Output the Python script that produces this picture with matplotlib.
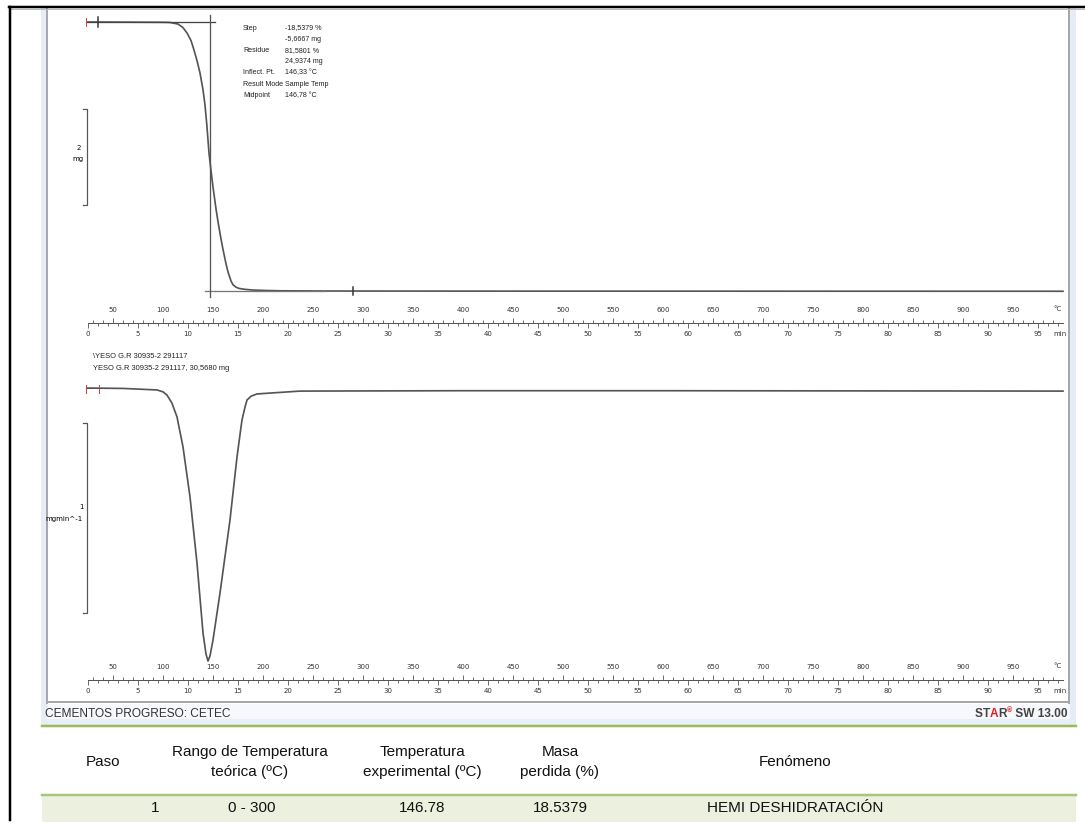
import matplotlib
matplotlib.use("Agg")
import matplotlib.pyplot as plt
import numpy as np

plt.rcParams["font.family"] = "DejaVu Sans"

# --- datos ---
# TGA (masa, mg) frente a temperatura de muestra (ºC)
tga_temp = [25, 100, 107, 115, 120, 124, 128, 131, 134, 137, 140, 142, 144, 146, 148,
            150, 153, 155, 158, 160, 163, 165, 168, 170, 173, 176, 182, 190, 205, 217,
            260, 400, 600, 800, 1000]
tga_mass = [30.568, 30.562, 30.558, 30.526, 30.450, 30.338, 30.180, 29.982, 29.760,
            29.501, 29.150, 28.832, 28.371, 27.827, 27.460, 27.116, 26.660, 26.390,
            26.030, 25.810, 25.510, 25.340, 25.150, 25.070, 25.020, 24.995, 24.975,
            24.960, 24.950, 24.945, 24.940, 24.938, 24.937, 24.936, 24.935]

# DTG (mg/min) frente a temperatura (ºC)
dtg_temp = [25, 60, 94, 100, 104, 109, 114, 120, 127, 134, 140, 143, 145, 147, 150,
            157, 167, 174, 177, 179, 182, 184, 188, 194, 237, 400, 600, 800, 1000]
dtg_val = [0.005, 0.003, -0.005, -0.015, -0.032, -0.075, -0.147, -0.305, -0.568,
           -0.916, -1.284, -1.395, -1.432, -1.405, -1.321, -1.074, -0.689, -0.358,
           -0.240, -0.163, -0.095, -0.058, -0.038, -0.026, -0.011, -0.009, -0.009,
           -0.010, -0.011]

inflect_T = 146.78
step_mass = [30.568, 24.9374]

results_lab = ["Step", "", "Residue", "", "Inflect. Pt.", "Result Mode", "Midpoint"]
results_val = ["-18,5379 %", "-5,6667 mg", "81,5801 %", "24,9374 mg", "146,33 °C",
               "Sample Temp", "146,78 °C"]
sample_names = ["\\YESO G.R 30935-2 291117", "YESO G.R 30935-2 291117, 30,5680 mg"]

temp_major = list(range(50, 1000, 50))
min_major = list(range(0, 100, 5))

tabla_cols = ["Paso", "Rango de Temperatura\nteórica (ºC)", "Temperatura\nexperimental (ºC)",
              "Masa\nperdida (%)", "Fenómeno"]
tabla_fila = ["1", "0 - 300", "146.78", "18.5379", "HEMI DESHIDRATACIÓN"]

# --- figura ---
W, H = 1085, 826
fig = plt.figure(figsize=(W / 100, H / 100), dpi=100)

# capa de fondo en pixeles
bg = fig.add_axes([0, 0, 1, 1])
bg.set_xlim(0, W)
bg.set_ylim(H, 0)
bg.axis("off")

px = 0.72  # 1 pixel en puntos

# marcos
bg.fill_between([41, 47], 8, 726, color="#E6EDF7", lw=0)
bg.fill_between([1070, 1076], 8, 726, color="#E6EDF7", lw=0)
bg.fill_between([47, 1070], 704, 726, color="#F6F8FC", lw=0)
bg.fill_between([47, 1070], 719, 725, color="#E8EFF8", lw=0)
bg.plot([47, 47], [8, 703], color="#A8A8A8", lw=2 * px)
bg.plot([1069, 1069], [8, 703], color="#A8A8A8", lw=2 * px)
bg.plot([47, 1069], [702, 702], color="#A8A8A8", lw=2 * px)
bg.plot([9, W], [7, 7], color="black", lw=2.5 * px)
bg.plot([9, W], [9, 9], color="#BBBBBB", lw=1 * px)
bg.plot([10, 10], [7, 820], color="black", lw=2.5 * px)
bg.plot([42, 1076], [726, 726], color="#9BBB59", lw=2.5 * px)

# tabla
bg.fill_between([42, 1076], 795, 822, color="#EBF1DE", lw=0)
bg.plot([42, 1076], [795, 795], color="#A9C47F", lw=2.5 * px)
col_x = [103, 250, 422, 560, 795]
for cx, s in zip(col_x, tabla_cols):
    bg.text(cx, 762, s, ha="center", va="center", fontsize=11, family="Liberation Sans",
            color="#111111", linespacing=1.5)
row_x = [155, 252, 422, 560, 795]
for cx, s in zip(row_x, tabla_fila):
    bg.text(cx, 808, s, ha="center", va="center", fontsize=11, family="Liberation Sans",
            color="#111111")

# pie
bg.text(45, 714, "CEMENTOS PROGRESO: CETEC", ha="left", va="center", fontsize=8.6,
        family="Liberation Sans", color="#333333")
r = fig.canvas.get_renderer()
piezas = [("S", "#444444", 8.6, 0), ("T", "#444444", 8.6, 0), ("A", "#E02020", 8.6, 0),
          ("R", "#444444", 8.6, 0), ("®", "#E02020", 5, -3), (" SW 13.00", "#444444", 8.6, 0)]
txts = []
for s, c, fs, dy in piezas:
    txts.append(bg.text(0, 714 + dy, s, ha="left", va="center", fontsize=fs, color=c,
                        family="Liberation Sans", weight="bold"))
anchos = [t.get_window_extent(renderer=r).width for t in txts]
xx = 1068 - sum(anchos)
for t, w in zip(txts, anchos):
    t.set_x(xx)
    xx += w

# --- paneles ---
xl = (47 - 63, 1069 - 63)  # px -> ºC : T = px - 63
curve_c = "#555555"


def pfrac(top_px, bot_px):
    return [47 / W, 1 - bot_px / H, 1022 / W, (bot_px - top_px) / H]


# panel TGA (47.8 px por mg)
ax1 = fig.add_axes(pfrac(10, 300))
ax1.set_xlim(*xl)
ax1.set_ylim(30.568 - 278 / 47.8, 30.568 + 12 / 47.8)
ax1.axis("off")
ax1.patch.set_alpha(0)
ax1.plot(tga_temp, tga_mass, color=curve_c, lw=1.7 * px)
ax1.plot([23, 152], [step_mass[0]] * 2, color="#444444", lw=1.3 * px)
ax1.plot([142, 262], [step_mass[1]] * 2, color="#777777", lw=1.3 * px)
ax1.plot([inflect_T] * 2, [30.568 + 7 / 47.8, 30.568 - 275 / 47.8], color="#555555", lw=1.3 * px)
ax1.plot([35, 35], [30.568 + 5 / 47.8, 30.568 - 5 / 47.8], color="#333333", lw=1.5 * px)
ax1.plot([290, 290], [step_mass[1] + 4 / 47.8, step_mass[1] - 4 / 47.8], color="#333333", lw=1.5 * px)
ax1.plot([23, 23], [30.568 + 4 / 47.8, 30.568 - 4 / 47.8], color="#E04040", lw=1 * px)
# barra de escala 2 mg
b0 = 28.748
ax1.plot([20, 24, 24, 20], [b0, b0, b0 - 2, b0 - 2], color="#555555", lw=1.2 * px)
bg.text(79, 148, "2", ha="center", va="center", fontsize=5)
bg.text(78, 159, "mg", ha="center", va="center", fontsize=5)

for i, (a, b) in enumerate(zip(results_lab, results_val)):
    y = 28 + i * 11.2
    bg.text(243, y, a, ha="left", va="center", fontsize=5.1, color="#222222",
            family="Liberation Sans")
    bg.text(285, y, b, ha="left", va="center", fontsize=5.1, color="#222222",
            family="Liberation Sans")

# panel DTG (190 px por mg/min)
ax2 = fig.add_axes(pfrac(370, 670))
ax2.set_xlim(*xl)
ax2.set_ylim(-(670 - 389) / 190, (389 - 370) / 190)
ax2.axis("off")
ax2.patch.set_alpha(0)
ax2.plot(dtg_temp, dtg_val, color=curve_c, lw=1.7 * px)
ax2.plot([23, 23], [0.02, -0.02], color="#E04040", lw=1 * px)
ax2.plot([36, 36], [0.02, -0.02], color="#E04040", lw=1 * px)
ax2.plot([23, 36], [0.003, 0.003], color="#555555", lw=1 * px)
v0 = -0.179
ax2.plot([20, 24, 24, 20], [v0, v0, v0 - 1, v0 - 1], color="#555555", lw=1.2 * px)
bg.text(81, 507, "1", ha="center", va="center", fontsize=5)
bg.text(83, 519, "mgmin^-1", ha="right", va="center", fontsize=5)

for i, s in enumerate(sample_names):
    bg.text(93, 357 + i * 12, s, ha="left", va="center", fontsize=5.4, color="#222222",
            family="Liberation Sans")


# --- reglas de temperatura / tiempo ---
def regla(y_px):
    rax = fig.add_axes([47 / W, 1 - y_px / H, 1022 / W, 0.0001])
    rax.set_xlim(*xl)
    rax.patch.set_alpha(0)
    for s in ["top", "left", "right"]:
        rax.spines[s].set_visible(False)
    rax.spines["bottom"].set_bounds(25, 1000)
    rax.spines["bottom"].set_color("#555555")
    rax.spines["bottom"].set_linewidth(1 * px)
    rax.set_yticks([])
    rax.set_xticks(temp_major, labels=[str(v) for v in temp_major])
    rax.set_xticks(list(range(30, 1000, 10)), minor=True)
    rax.tick_params(axis="x", which="both", top=True, bottom=False, labeltop=True,
                    labelbottom=False, direction="out", color="#555555", width=0.6,
                    labelsize=5, labelcolor="#333333")
    rax.tick_params(axis="x", which="major", length=3.5, pad=3.5)
    rax.tick_params(axis="x", which="minor", length=2)
    sec = rax.secondary_xaxis("bottom", functions=(lambda T: (T - 25) / 10.0,
                                                   lambda t: 25 + 10.0 * t))
    sec.spines["bottom"].set_visible(False)
    sec.set_xticks(min_major, labels=[str(v) for v in min_major])
    sec.set_xticks(list(range(0, 98)), minor=True)
    sec.tick_params(axis="x", which="both", direction="out", color="#555555", width=0.6,
                    labelsize=5, labelcolor="#333333")
    sec.tick_params(axis="x", which="major", length=3.5, pad=2.5)
    sec.tick_params(axis="x", which="minor", length=2)
    bg.text(1057, y_px - 14, "°C", ha="center", va="center", fontsize=5, color="#333333")
    bg.text(1060, y_px + 11, "min", ha="center", va="center", fontsize=5, color="#333333")


regla(323)
regla(680)

plt.savefig("out.png", dpi=100)
